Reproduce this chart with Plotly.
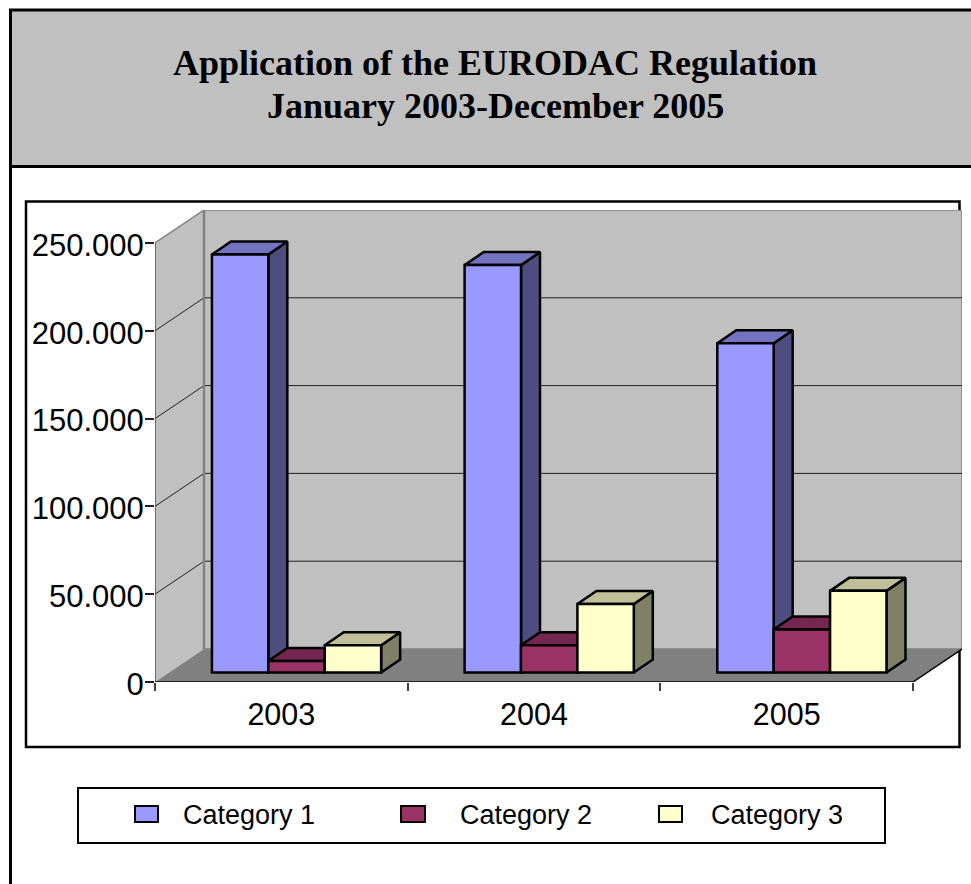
import plotly.graph_objects as go

years = ["2003", "2004", "2005"]
series_names = ["Category 1", "Category 2", "Category 3"]
category_1 = [238000, 232000, 187500]
category_2 = [6500, 15500, 24500]
category_3 = [15500, 39000, 46500]
series_values = [category_1, category_2, category_3]
y_ticks = [0, 50000, 100000, 150000, 200000, 250000]
y_tick_labels = ["0", "50.000", "100.000", "150.000", "200.000", "250.000"]
title_lines = ["Application of the EURODAC Regulation", "January 2003-December 2005"]

front = ["#9999FF", "#993366", "#FFFFCC"]
side = ["#4D4D80", "#4D1A33", "#808066"]
top = ["#7373BF", "#732650", "#BFBF99"]

W, H = 971, 884
X0, X1, XR = 155, 913, 962      # axis start, axis end, back wall right edge (px)
Y0, Y250, YT = 682, 243, 210    # axis y, 250k y, back wall top (px)
px_per_cat = (X1 - X0) / 3
px_per_val = (Y0 - Y250) / 250000
xrange_ = [-0.5, -0.5 + (XR - X0) / px_per_cat]
yrange_ = [0, (Y0 - YT) / px_per_val]

wall_dx, wall_dy = 49 / px_per_cat, 33 / px_per_val
bar_dx, bar_dy = 19 / px_per_cat, 13 / px_per_val
bar_w = 56.4 / px_per_cat
group_shift, base = 15.2 / px_per_cat, 9.5 / px_per_val

fig = go.Figure()
shapes = []


def paper_rect(x0, y0, x1, y1, fill="rgba(0,0,0,0)", line="black", width=2, layer="below"):
    shapes.append(dict(type="rect", xref="paper", yref="paper", x0=x0 / W, x1=x1 / W,
                       y0=1 - y0 / H, y1=1 - y1 / H, fillcolor=fill, layer=layer,
                       line=dict(color=line, width=width)))


def data_path(pts, fill="rgba(0,0,0,0)", line="rgba(0,0,0,0)", width=1):
    d = "M" + "L".join(f"{a},{b}" for a, b in pts) + "Z"
    shapes.append(dict(type="path", xref="x", yref="y", path=d, fillcolor=fill, layer="below",
                       line=dict(color=line, width=width)))


def data_line(a, b, color, width):
    shapes.append(dict(type="line", xref="x", yref="y", x0=a[0], y0=a[1], x1=b[0], y1=b[1],
                       layer="below", line=dict(color=color, width=width)))


# page furniture
paper_rect(10.5, 10, W + 10, 166.5, fill="#C0C0C0", width=3)
shapes.append(dict(type="line", xref="paper", yref="paper", x0=10.5 / W, x1=10.5 / W, y0=0,
                   y1=1 - 166 / H, layer="below", line=dict(color="black", width=3)))

xa, xb = xrange_
xa_end = 2.5
yt = y_ticks[-1]
# walls and floor
data_path([(xa + wall_dx, wall_dy), (xa_end + wall_dx, wall_dy), (xa_end + wall_dx, yt + wall_dy),
           (xa + wall_dx, yt + wall_dy)], fill="#C0C0C0", line="#808080", width=1.5)
data_path([(xa, 0), (xa + wall_dx, wall_dy), (xa + wall_dx, yt + wall_dy), (xa, yt)], fill="#C0C0C0")
data_path([(xa, 0), (xa_end, 0), (xa_end + wall_dx, wall_dy), (xa + wall_dx, wall_dy)], fill="#808080")
# gridlines
for v in y_ticks[1:-1]:
    data_line((xa + wall_dx, v + wall_dy), (xa_end + wall_dx, v + wall_dy), "#202020", 1)
    data_line((xa, v), (xa + wall_dx, v + wall_dy), "#202020", 1)
data_line((xa + wall_dx, wall_dy), (xa + wall_dx, yt + wall_dy), "#808080", 2.5)
data_line((xa, yt), (xa + wall_dx, yt + wall_dy), "#808080", 1.5)
data_line((xa, 0), (xa, yt), "#505050", 1.5)
data_line((xa, 0), (xa_end, 0), "black", 1.5)
data_line((xa_end, 0), (xa_end + wall_dx, wall_dy), "black", 1.5)

paper_rect(26, 201.5, 959.5, 747, width=2.5)
paper_rect(78, 788, 885, 843, width=2)

# side and top faces, in drawing order (primary axes)
for s, (name, vals) in enumerate(zip(series_names, series_values)):
    for g, v in enumerate(vals):
        left = g + group_shift + (s - 1.5) * bar_w
        right = left + bar_w
        t = base + v
        face_side = [(right, base), (right + bar_dx, base + bar_dy), (right + bar_dx, t + bar_dy), (right, t), (right, base)]
        face_top = [(left, t), (left + bar_dx, t + bar_dy), (right + bar_dx, t + bar_dy), (right, t), (left, t)]
        for pts, col in ((face_side, side[s]), (face_top, top[s])):
            fig.add_trace(go.Scatter(x=[p[0] for p in pts], y=[p[1] for p in pts], mode="lines",
                                     fill="toself", fillcolor=col, line=dict(color="black", width=2.5),
                                     showlegend=False, hoverinfo="skip"))

# front faces on overlay axes, so they sit above the side faces
for s, (name, vals) in enumerate(zip(series_names, series_values)):
    fig.add_trace(go.Bar(
        name=name, x=[g + group_shift + (s - 1) * bar_w for g in range(len(years))], y=vals,
        base=[base] * len(vals), width=bar_w, marker=dict(color=front[s], line=dict(color="black", width=2.5)),
        xaxis="x2", yaxis="y2", showlegend=False, customdata=years,
        hovertemplate="%{customdata}: %{y:,}<extra>" + name + "</extra>"))

# legend drawn to the reference's proportions
swatch_x = [(135, 158), (401, 425), (659, 682)]
text_x = [181, 458, 709]
for s, name in enumerate(series_names):
    paper_rect(swatch_x[s][0], 806, swatch_x[s][1], 822, fill=front[s], width=2, layer="above")

annotations = []
for s, name in enumerate(series_names):
    annotations.append(dict(xref="paper", yref="paper", x=text_x[s] / W, y=1 - 815 / H, text=name.replace(" ", "&nbsp;"),
                            xanchor="left", yanchor="middle", showarrow=False,
                            font=dict(family="Liberation Sans", size=27, color="black")))
for line, yc in zip(title_lines, (63, 106)):
    annotations.append(dict(xref="paper", yref="paper", x=495 / W, y=1 - yc / H, text="<b>" + line + "</b>",
                            xanchor="center", yanchor="middle", showarrow=False,
                            font=dict(family="Liberation Serif", size=36, color="black")))

dom_x = [X0 / W, XR / W]
dom_y = [1 - Y0 / H, 1 - YT / H]
fig.update_layout(
    width=W, height=H, margin=dict(l=0, r=0, t=0, b=0), autosize=False,
    paper_bgcolor="white", plot_bgcolor="rgba(0,0,0,0)", barmode="overlay", showlegend=False,
    shapes=shapes, annotations=annotations,
    font=dict(family="Liberation Sans", color="black"),
    xaxis=dict(domain=dom_x, range=xrange_, showgrid=False, zeroline=False, showline=False, automargin=False,
               tickmode="array", tickvals=[0, 1, 2], ticktext=years, ticks="outside",
               ticklen=5, tickcolor="rgba(0,0,0,0)", tickfont=dict(size=30.5),
               minor=dict(tickmode="array", tickvals=[-0.5, 0.5, 1.5, 2.5], ticks="outside", ticklen=8,
                          tickcolor="#404040", tickwidth=1.5, showgrid=False)),
    yaxis=dict(domain=dom_y, range=yrange_, showgrid=False, zeroline=False, showline=False, automargin=False,
               tickmode="array", tickvals=y_ticks, ticktext=y_tick_labels, ticks="outside",
               ticklen=4, tickcolor="rgba(0,0,0,0)", tickfont=dict(size=31), ticklabelshift=2,
               minor=dict(tickmode="array", tickvals=y_ticks, ticks="outside", ticklen=9,
                          tickcolor="#202020", tickwidth=1.5, showgrid=False)),
    xaxis2=dict(domain=dom_x, range=xrange_, overlaying="x", visible=False, automargin=False),
    yaxis2=dict(domain=dom_y, range=yrange_, overlaying="y", visible=False, automargin=False),
)
fig.write_html("out.html", config=dict(displayModeBar=False, responsive=False),
               default_width=f"{W}px", default_height=f"{H}px",
               post_script="document.documentElement.style.margin='0';document.body.style.margin='0';document.body.style.overflow='hidden';")
